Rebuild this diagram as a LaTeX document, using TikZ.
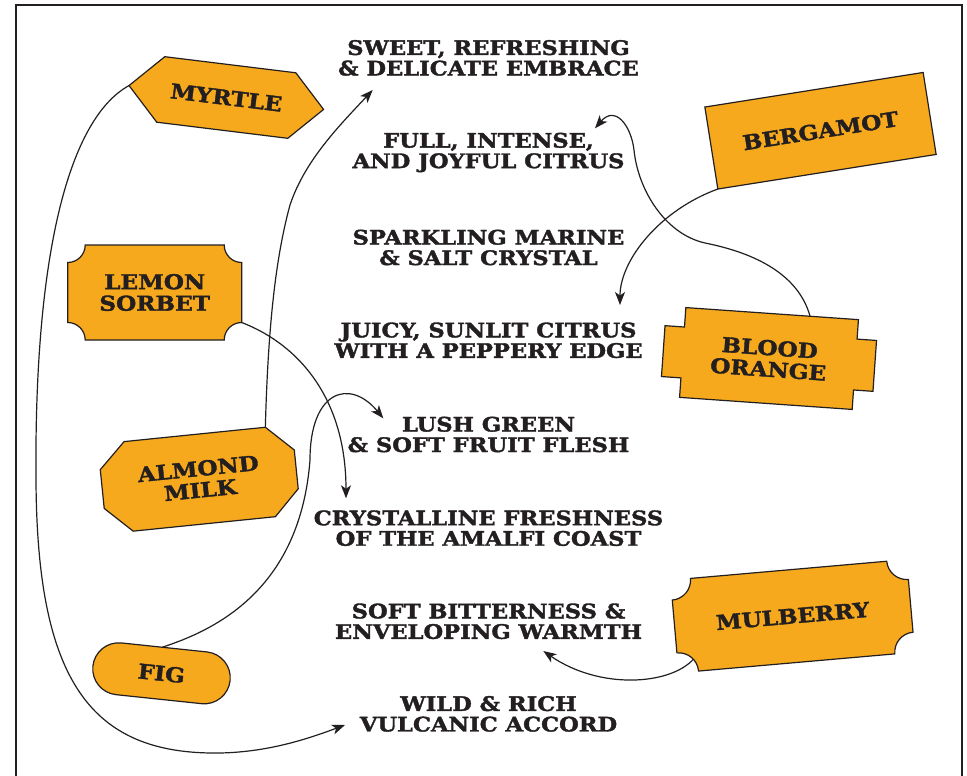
\documentclass[tikz,border=0pt]{standalone}
\usepackage{fontspec}
\setmainfont{DejaVu Serif}
\newfontfamily\heavy{DejaVu Serif}[UprightFont={* Bold}, FakeStretch=1.13, FakeBold=1.8]
\usetikzlibrary{arrows.meta,calc}
\definecolor{ink}{HTML}{231F20}
\definecolor{tagfill}{HTML}{F7A91D}
\tikzset{
  lab/.style={align=center, inner sep=0pt, text=ink, font=\heavy\fontsize{20}{20.5}\selectfont},
  tagtext/.style={align=center, inner sep=0pt, text=ink, transform shape, font=\heavy\fontsize{20.5}{21.5}\selectfont},
  tag/.style={draw=ink, fill=tagfill, line width=1.2pt, line join=miter},
  conn/.style={draw=ink, line width=1.2pt, -{Stealth[length=13pt,width=10pt,inset=3.5pt]}},
}
\begin{document}
\begin{tikzpicture}[x=1pt,y=-1pt]
\useasboundingbox (0,0) rectangle (967,776);
\fill[white] (0,0) rectangle (967,776);
% frame
\draw[ink, line width=1.5pt] (16,776) -- (16,5) -- (962,5) -- (962,776);

% text labels
\node[lab] (sweet) at (488.5,57.9) {SWEET, REFRESHING\\\& DELICATE EMBRACE};
\node[lab] (full) at (488.5,152.5) {FULL, INTENSE,\\AND JOYFUL CITRUS};
\node[lab] (spark) at (488.5,247.5) {SPARKLING MARINE\\\& SALT CRYSTAL};
\node[lab] (juicy) at (488.5,340.3) {JUICY, SUNLIT CITRUS\\WITH A PEPPERY EDGE};
\node[lab] (lush) at (488.5,434.5) {LUSH GREEN\\\& SOFT FRUIT FLESH};
\node[lab] (crys) at (488.5,528.2) {CRYSTALLINE FRESHNESS\\OF THE AMALFI COAST};
\node[lab] (soft) at (488.5,621.3) {SOFT BITTERNESS \&\\ENVELOPING WARMTH};
\node[lab] (wild) at (488.5,713.9) {WILD \& RICH\\VULCANIC ACCORD};

% Myrtle
\begin{scope}[shift={(226.3,97.5)}, rotate=-7]
  \path[tag] (-98,0) -- (-66,-33) -- (66,-33) -- (98,0) -- (66,33) -- (-66,33) -- cycle;
  \node[tagtext] (myrtle) at (0,0) {MYRTLE};
  \coordinate (myrA) at (-98,0);
\end{scope}

% Bergamot
\begin{scope}[shift={(820.5,130.75)}, rotate=9]
  \path[tag] (-110.5,-41.5) rectangle (110.5,41.5);
  \node[tagtext] (berg) at (0,0) {BERGAMOT};
  \coordinate (berA) at (-110.5,41.5);
\end{scope}

% Lemon sorbet
\begin{scope}[shift={(154.7,292.5)}]
  \path[tag] (-69.5,-47.5) -- (69.5,-47.5) .. controls (69.5,-37.83) and (77.33,-30) .. (87,-30)
    -- (87,30) .. controls (77.33,30) and (69.5,37.83) .. (69.5,47.5)
    -- (-69.5,47.5) .. controls (-69.5,37.83) and (-77.33,30) .. (-87,30)
    -- (-87,-30) .. controls (-77.33,-30) and (-69.5,-37.83) .. (-69.5,-47.5) -- cycle;
  \node[tagtext] (lemon) at (0,0) {LEMON\\SORBET};
  \coordinate (lemA) at (87,30);
\end{scope}

% Almond milk
\begin{scope}[shift={(199.25,479.2)}, rotate=5.8]
  \path[tag] (-71,-45) -- (71,-45) -- (97.5,-19.5) -- (97.5,19.5) -- (72,45) -- (-71,45)
    -- (-97.5,19.5) -- (-97.5,-19.5) -- cycle;
  \node[tagtext] (almond) at (0,0) {ALMOND\\MILK};
  \coordinate (almA) at (71,-45);
\end{scope}

% Blood orange
\begin{scope}[shift={(769,358.5)}, rotate=-4]
  \path[tag] (-86.5,-45) -- (86.5,-45) -- (86.5,-25.5) -- (106,-25.5) -- (106,25.5) -- (86.5,25.5)
    -- (86.5,45) -- (-86.5,45) -- (-86.5,25.5) -- (-106,25.5) -- (-106,-25.5) -- (-86.5,-25.5) -- cycle;
  \node[tagtext] (blood) at (0,0) {BLOOD\\ORANGE};
  \coordinate (bloA) at (38,-45);
\end{scope}

% Fig
\begin{scope}[shift={(161.5,673.3)}, rotate=-6]
  \path[tag, rounded corners=26pt] (-69,-26) rectangle (69,26);
  \node[tagtext] (fig) at (0,0) {FIG};
  \coordinate (figA) at (-2,-26);
\end{scope}

% Mulberry
\begin{scope}[shift={(792.65,616.15)}, rotate=5]
  \path[tag] (-98.5,-46.5) -- (98.5,-46.5) .. controls (98.5,-35.45) and (107.45,-26.5) .. (118.5,-26.5)
    -- (118.5,26.5) .. controls (107.45,26.5) and (98.5,35.45) .. (98.5,46.5)
    -- (-98.5,46.5) .. controls (-98.5,35.45) and (-107.45,26.5) .. (-118.5,26.5)
    -- (-118.5,-26.5) .. controls (-107.45,-26.5) and (-98.5,-35.45) .. (-98.5,-46.5) -- cycle;
  \node[tagtext] (mulb) at (0,0) {MULBERRY};
  \coordinate (mulA) at (-102.7,34.3);
\end{scope}

% connectors
\draw[conn] (myrA) .. controls (70,118) and (34,250) .. (36,480)
  .. controls (37,680) and (90,755) .. (220,753)
  .. controls (270,752) and (310,738) .. ($(wild.center)+(-143.5,11.1)$);
\draw[conn] (almA) .. controls (268,330) and (275,260) .. (290,205)
  .. controls (305,160) and (340,125) .. ($(sweet.center)+(-115.8,32.1)$);
\draw[conn] (lemA) .. controls (300,345) and (346,400) .. ($(crys.center)+(-142.5,-29.9)$);
\draw[conn] (figA) .. controls (215,630) and (300,590) .. (310,460)
  .. controls (310,390) and (350,378) .. ($(lush.center)+(-105.2,-16.2)$);
\draw[conn] (berA) .. controls (660,210) and (620,260) .. ($(juicy.center)+(131.5,-35.3)$);
\draw[conn] (bloA) .. controls (800,280) and (765,255) .. (705,243)
  .. controls (665,234) and (638,190) .. (634,150)
  .. controls (631,125) and (615,105) .. ($(full.center)+(106.5,-24.2)$);
\draw[conn] (mulA) .. controls (670,685) and (600,690) .. ($(soft.center)+(54.8,29.7)$);
\end{tikzpicture}
\end{document}
